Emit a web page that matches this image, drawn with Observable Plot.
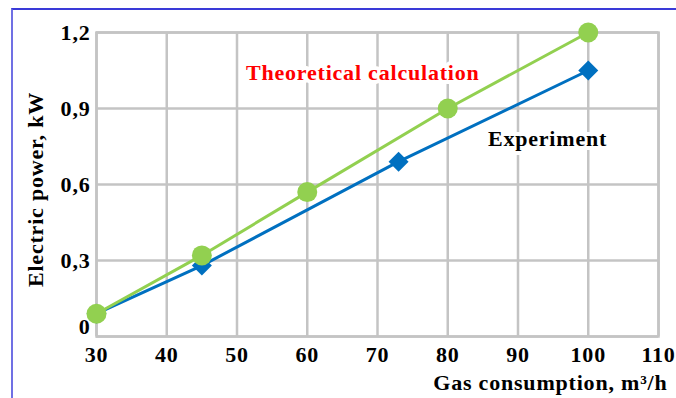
<!DOCTYPE html>
<html>
<head>
<meta charset="utf-8">
<script src="https://cdn.jsdelivr.net/npm/d3@7"></script>
<script src="https://cdn.jsdelivr.net/npm/@observablehq/plot@0.6"></script>
<style>
  html, body { margin: 0; padding: 0; background: #fff; width: 676px; height: 398px; overflow: hidden; }
  #frame { position: absolute; left: 11px; top: 8px; width: 720px; height: 440px;
           border-top: 2px solid #3a3ad8; border-left: 2px solid #7070e4; }
  #chart { position: absolute; left: 0; top: 0; }
</style>
</head>
<body>
<div id="frame"></div>
<div id="chart"></div>
<script>
// Data
const theoryX = [30, 45, 60, 80, 100];
const theoryY = [0.09, 0.32, 0.57, 0.90, 1.20];
const expX = [30, 45, 73, 100];
const expY = [0.09, 0.28, 0.69, 1.05];
const xTicks = [30, 40, 50, 60, 70, 80, 90, 100, 110];
const yTicks = [0, 0.3, 0.6, 0.9, 1.2];
const yTickLabels = ["0", "0,3", "0,6", "0,9", "1,2"];
const seriesLabels = ["Theoretical calculation", "Experiment"];
const labelX = [67.9, 94.2];
const labelY = [1.04, 0.78];

const theory = theoryX.map((x, i) => ({x, y: theoryY[i]}));
const exp = expX.map((x, i) => ({x, y: expY[i]}));
const labels = seriesLabels.map((t, i) => ({t, x: labelX[i], y: labelY[i]}));

const font = '"Liberation Serif", "Times New Roman", serif';
const fmtY = d => yTickLabels[yTicks.indexOf(d)];

const chart = Plot.plot({
  width: 676,
  height: 398,
  marginLeft: 96,
  marginRight: 18,
  marginTop: 32,
  marginBottom: 62,
  style: {fontFamily: font, fontWeight: "bold", fontSize: "22px", background: "transparent", color: "#000", letterSpacing: "0.8px"},
  x: {domain: [30, 110], axis: null},
  y: {domain: [0, 1.2], axis: null},
  marks: [
    Plot.gridX(xTicks, {stroke: "#c4c4c4", strokeOpacity: 1, strokeWidth: 2.5}),
    Plot.gridY(yTicks, {stroke: "#c4c4c4", strokeOpacity: 1, strokeWidth: 2.5}),
    Plot.frame({stroke: "#c4c4c4", strokeWidth: 2.5}),
    // x tick labels
    Plot.text(xTicks, {x: d => d, frameAnchor: "bottom", lineAnchor: "middle", dy: 18, fill: "#000", fontSize: 22, letterSpacing: 0}),
    // y tick labels
    Plot.text(yTicks.slice(1), {y: d => d, text: fmtY, frameAnchor: "left", textAnchor: "end", lineAnchor: "middle", dx: -6, fill: "#000", fontSize: 22}),
    Plot.text(yTicks.slice(0, 1), {y: d => d, text: fmtY, frameAnchor: "left", textAnchor: "end", lineAnchor: "middle", dx: -6, dy: -10, fill: "#000", fontSize: 22}),
    Plot.text(["Electric power, kW"], {frameAnchor: "left", dx: -61, dy: 5, rotate: -90, textAnchor: "middle", lineAnchor: "middle", fill: "#000", fontSize: 22}),
    Plot.text(["Gas consumption, m³/h"], {frameAnchor: "bottom-right", dx: 9, dy: 46, textAnchor: "end", lineAnchor: "middle", fill: "#000", fontSize: 22}),
    Plot.line(exp, {x: "x", y: "y", stroke: "#0070c0", strokeWidth: 3}),
    Plot.dot(exp, {x: "x", y: "y", symbol: "diamond2", r: 9, fill: "#0070c0", stroke: "none"}),
    Plot.line(theory, {x: "x", y: "y", stroke: "#92d050", strokeWidth: 3}),
    Plot.dot(theory, {x: "x", y: "y", r: 10, fill: "#92d050", stroke: "none"}),
    Plot.text(labels, {x: "x", y: "y", text: "t", fill: (d, i) => i === 0 ? "#ff0000" : "#000",
      stroke: "white", strokeWidth: 8, fontSize: 22})
  ]
});
document.getElementById("chart").appendChild(chart);
</script>
</body>
</html>
